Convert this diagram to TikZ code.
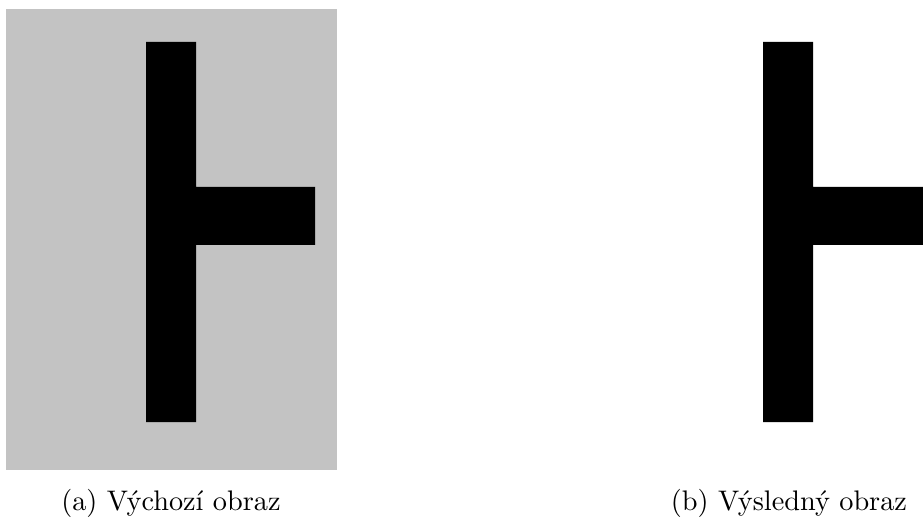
\documentclass[tikz,border=0pt]{standalone}
\usepackage{fontspec}
\newfontfamily\capfont{lmroman10-regular}[Extension=.otf]
\definecolor{panelgray}{RGB}{195,195,195}
\begin{document}
\begin{tikzpicture}[x=1pt,y=-1pt,
  tshape/.style={fill=black,draw=none},
  caption/.style={anchor=base,inner sep=0pt,font=\capfont\fontsize{28.3}{34}\selectfont}]
  \useasboundingbox (0,0) rectangle (923,518);
  % left panel: source image on grey background
  \fill[panelgray] (6,9) rectangle (337,470);
  \fill[tshape] (146,42) -- (196,42) -- (196,187) -- (315,187) -- (315,245)
    -- (196,245) -- (196,422) -- (146,422) -- cycle;
  % right panel: result on white background
  \begin{scope}
    \clip (0,0) rectangle (923,518);
    \fill[tshape] (763,42) -- (813,42) -- (813,187) -- (932,187) -- (932,245)
      -- (813,245) -- (813,422) -- (763,422) -- cycle;
  \end{scope}
  \node[caption] (capa) at (171,510) {(a) Výchozí obraz};
  \node[caption] (capb) at (789,510) {(b) Výsledný obraz};
\end{tikzpicture}
\end{document}
